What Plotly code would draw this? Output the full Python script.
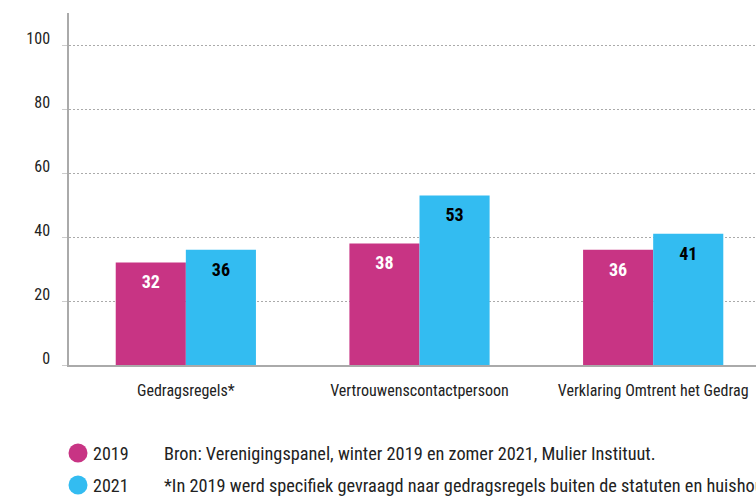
import plotly.graph_objects as go

categories = ["Gedragsregels*", "Vertrouwenscontactpersoon", "Verklaring Omtrent het Gedrag"]
series_names = ["2019", "2021"]
values_2019 = [32, 38, 36]
values_2021 = [36, 53, 41]
y_ticks = [0, 20, 40, 60, 80, 100]
source_note = "Bron: Verenigingspanel, winter 2019 en zomer 2021, Mulier Instituut."
footnote = "*In 2019 werd specifiek gevraagd naar gedragsregels buiten de statuten en huishoudelijk reglement."

colors = {"2019": "#C83484", "2021": "#33BCF1"}
label_colors = {"2019": "white", "2021": "black"}
FONT = "Roboto Condensed, Roboto, sans-serif"

W, H = 756, 496
L, R, T, B = 69, 0, 13, 131

fig = go.Figure()
for name, vals in zip(series_names, [values_2019, values_2021]):
    fig.add_trace(go.Bar(
        x=categories, y=vals, name=name, marker_color=colors[name],
        marker_line_width=0, offsetgroup=name, showlegend=False,
    ))
for name, vals in zip(series_names, [values_2019, values_2021]):
    fig.add_trace(go.Scatter(
        x=categories, y=vals, mode="markers+text", offsetgroup=name,
        text=[str(v) for v in vals], textposition="bottom center",
        marker=dict(size=18, opacity=0),
        textfont=dict(family=FONT, size=18, color=label_colors[name], weight="bold"),
        showlegend=False, hoverinfo="skip",
    ))

fig.update_layout(
    width=W, height=H,
    margin=dict(l=L, r=R, t=T, b=B),
    paper_bgcolor="white", plot_bgcolor="white",
    barmode="group", bargap=0.4, bargroupgap=0,
    scattermode="group", scattergap=0.4,
    font=dict(family=FONT, color="#222222"),
    xaxis=dict(
        range=[-0.5, 2.44], showgrid=False, showline=True, linecolor="#aaaaaa", linewidth=1.5,
        ticks="", ticklabelstandoff=10, tickfont=dict(size=16, family=FONT, color="#222222"),
        fixedrange=True,
    ),
    yaxis=dict(
        range=[0, 110], tickvals=y_ticks, showgrid=True, gridcolor="#aaaaaa", griddash="2px,2px",
        gridwidth=1, showline=True, linecolor="#aaaaaa", linewidth=1.5, zeroline=False,
        ticks="outside", ticklen=5, tickcolor="#cccccc",
        ticklabelposition="outside top", ticklabelstandoff=14, ticklabelshift=5,
        tickfont=dict(size=16, family=FONT, color="#222222", weight="normal"),
    ),
)

pw = W - L - R
ph = H - T - B
def px(x):
    return (x - L) / pw
def py(y):
    return (H - B - y) / ph

rows = [(453, series_names[0], source_note), (485, series_names[1], footnote)]
for yy, name, note in rows:
    fig.add_shape(type="circle", xref="paper", yref="paper",
                  xsizemode="pixel", ysizemode="pixel",
                  xanchor=px(78), yanchor=py(yy), x0=-9.5, x1=9.5, y0=-9.5, y1=9.5,
                  fillcolor=colors[name], line_width=0)
    fig.add_annotation(xref="paper", yref="paper", x=px(91), y=py(yy), text=name,
                       showarrow=False, xanchor="left", yanchor="middle",
                       font=dict(family=FONT, size=18, color="#222222"))
    fig.add_annotation(xref="paper", yref="paper", x=px(162), y=py(yy), text=note,
                       showarrow=False, xanchor="left", yanchor="middle",
                       font=dict(family=FONT, size=18.3, color="#222222"))

fig.write_html("out.html", config={"displayModeBar": False},
               post_script="document.body.style.margin='0';document.body.style.overflow='hidden';")
